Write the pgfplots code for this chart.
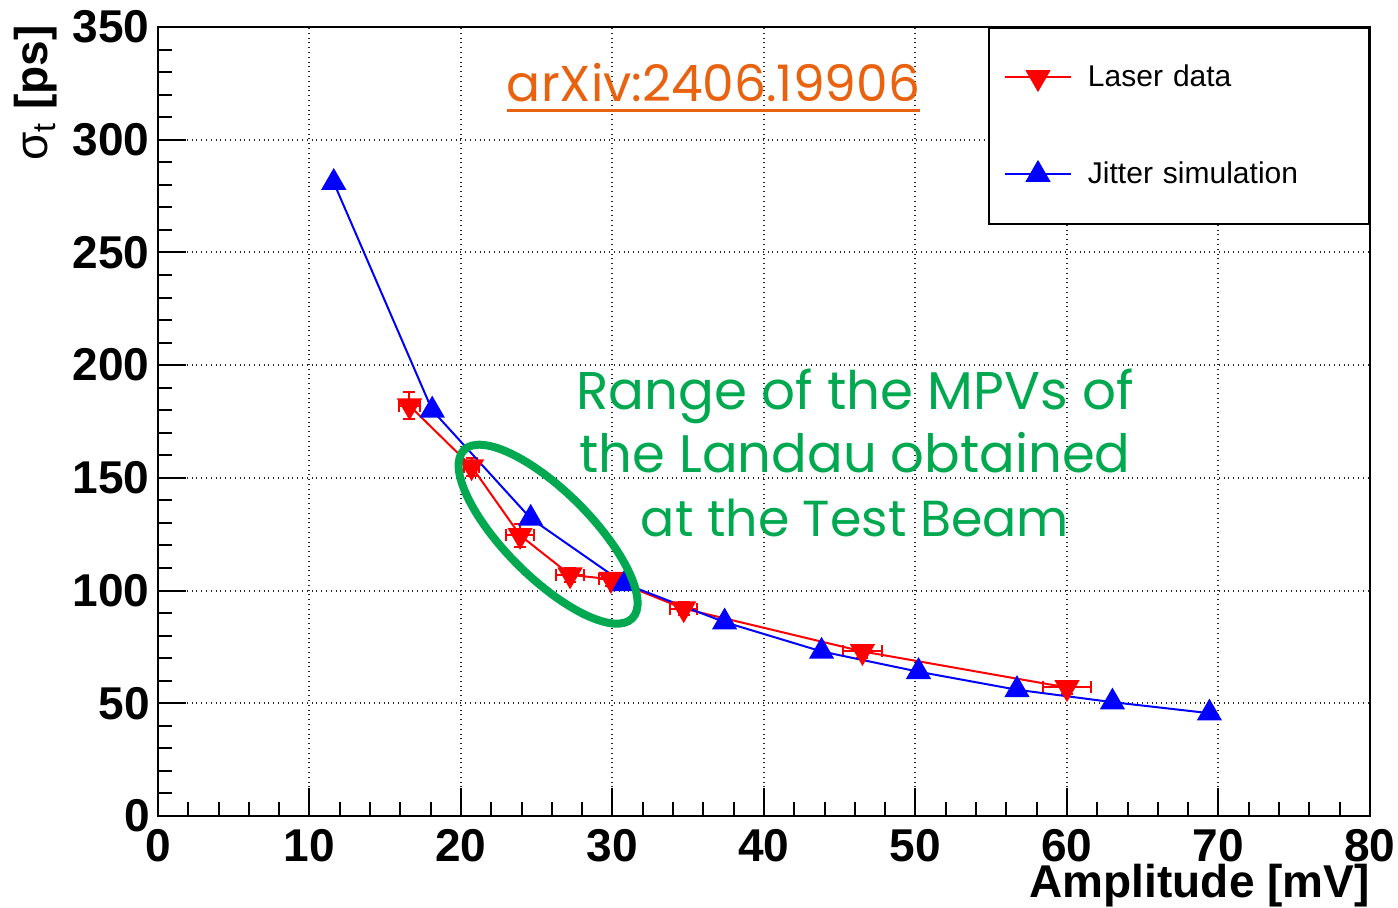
\documentclass[border=0pt]{standalone}
\usepackage{fontspec}
\setmainfont{Liberation Sans}
\newfontfamily\gothic{Poppins}
\usepackage{pgfplots}
\pgfplotsset{compat=1.18}
\usepackage{pgfplotstable}
\definecolor{arxivorange}{HTML}{E8620F}
\definecolor{mpvgreen}{HTML}{00A84F}

\pgfplotstableread{
x y ex ey
16.6 182 0.7 6
20.7 155 0.5 4
23.9 124.5 0.9 5
27.2 107 0.9 3
29.9 105 0.8 3
34.7 92 0.9 3
46.5 73 1.3 3
60.0 57 1.6 3
}\laser

\pgfplotstableread{
x y
11.6 281
18.1 180
24.6 132
30.8 103
37.4 86
43.8 73
50.2 64
56.7 56
63.0 50.5
69.4 45.6
}\jitter

\begin{document}
\begin{tikzpicture}
\useasboundingbox (0,0) rectangle (699pt,454pt);
\begin{axis}[
  at={(79pt,46pt)}, anchor=south west,
  scale only axis, width=606pt, height=394.5pt,
  xmin=0, xmax=80, ymin=0, ymax=350,
  xtick={0,10,...,80}, ytick={0,50,...,350},
  minor x tick num=4, minor y tick num=4,
  tick align=inside, xtick pos=bottom, ytick pos=left,
  major tick length=14pt, minor tick length=7pt,
  grid=major,
  major grid style={black!85, dotted, line width=1pt},
  axis line style={line width=1pt},
  every tick/.style={black, line width=1pt},
  /pgf/number format/assume math mode=true,
  ticklabel style={font=\fontsize{23}{23}\selectfont\bfseries},
  xticklabel style={anchor=base, yshift=-23pt},
  yticklabel style={anchor=east, inner xsep=0pt, xshift=-4pt},
  xlabel={Amplitude [mV]},
  xlabel style={at={(rel axis cs:1,0)}, anchor=base east, yshift=-41pt, inner sep=0pt, font=\fontsize{23}{23}\selectfont\bfseries},
  ylabel={σ\textsubscript{t} {\bfseries [ps]}},
  ylabel style={at={(rel axis cs:-0.0908,1.0025)}, anchor=base east, inner sep=0pt, font=\fontsize{23}{23}\selectfont},
  legend image code/.code={\draw[mark repeat=2, mark phase=2] plot coordinates {(0pt,0pt) (16.5pt,0pt) (33pt,0pt)};},
  legend style={
    at={(rel axis cs:1,1)}, anchor=north east,
    draw=black, line width=1pt, fill=white,
    font=\fontsize{15}{15}\selectfont,
    inner xsep=7.5pt, inner ysep=14.75pt,
    row sep=28.5pt,
    nodes={minimum height=20pt, inner sep=0pt},
    /tikz/every odd column/.append style={column sep=8pt},
    /tikz/every even column/.append style={text width=133pt},
  },
  legend cell align=left,
]
\addplot[red, line width=1pt, mark=triangle*, mark size=6.3pt,
  mark options={solid, rotate=180, fill=red},
  error bars/.cd, x dir=both, x explicit, y dir=both, y explicit,
  error bar style={line width=1pt},
  error mark options={rotate=90, mark size=3pt, line width=1pt}]
  table[x=x, y=y, x error=ex, y error=ey] {\laser};
\addlegendentry{Laser data}
\addplot[blue, line width=1pt, mark=triangle*, mark size=6.3pt,
  mark options={solid, fill=blue}]
  table[x=x, y=y] {\jitter};
\addlegendentry{Jitter simulation}
\coordinate (E) at (axis cs:25.75,125.0);
\end{axis}
\draw[mpvgreen, line width=4pt, rotate around={-45:(E)}] (E) ellipse [x radius=59.5pt, y radius=21.5pt];
\node[anchor=base, inner sep=0pt, text=arxivorange] at (356.75pt,403pt) {\resizebox{206.5pt}{!}{\gothic arXiv:2406.19906}};
\draw[arxivorange, line width=1.5pt] (253.5pt,398.5pt) -- (460pt,398.5pt);
\node[anchor=base, inner sep=0pt, text=mpvgreen] at (427.5pt,249pt) {\resizebox{278.5pt}{!}{\gothic Range of the MPVs of}};
\node[anchor=base, inner sep=0pt, text=mpvgreen] at (427.5pt,217.5pt) {\resizebox{275.5pt}{!}{\gothic the Landau obtained}};
\node[anchor=base, inner sep=0pt, text=mpvgreen] at (427.5pt,185.5pt) {\resizebox{214pt}{!}{\gothic at the Test Beam}};
\end{tikzpicture}
\end{document}
